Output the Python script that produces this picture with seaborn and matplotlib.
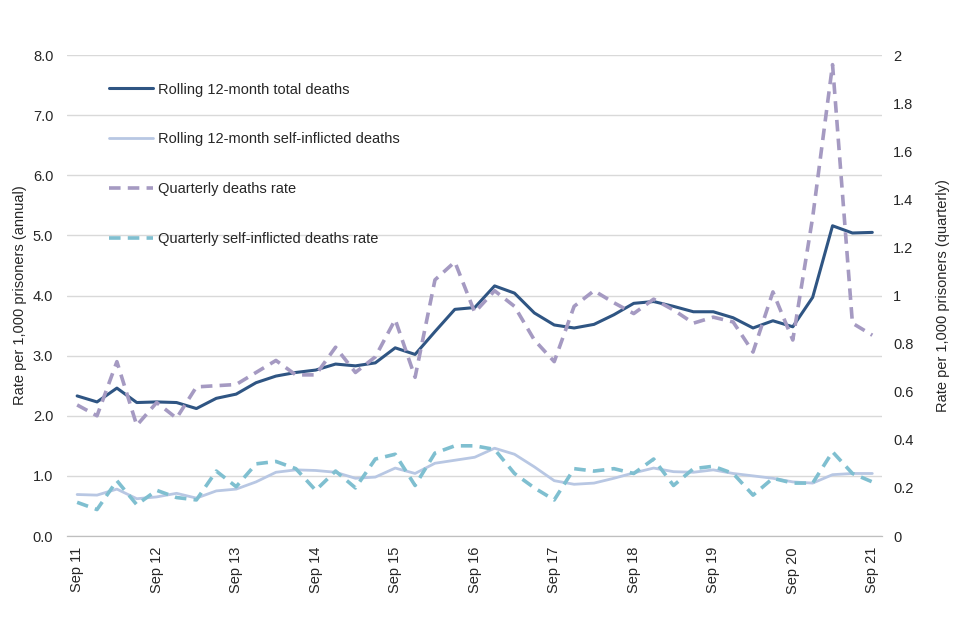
import numpy as np
import matplotlib.pyplot as plt
import matplotlib.ticker as mticker
import seaborn as sns

# Quarterly series, Sep 11 to Sep 21 (41 quarters)
quarter_idx = list(range(41))
sep_labels = ["Sep 11", "Sep 12", "Sep 13", "Sep 14", "Sep 15", "Sep 16",
              "Sep 17", "Sep 18", "Sep 19", "Sep 20", "Sep 21"]

# Left axis: rolling 12-month rates (annual)
rolling_total = [2.33, 2.23, 2.46, 2.22, 2.23, 2.22, 2.12, 2.29, 2.36, 2.55,
                 2.66, 2.72, 2.76, 2.86, 2.83, 2.88, 3.13, 3.02, 3.40, 3.77,
                 3.80, 4.16, 4.04, 3.71, 3.51, 3.46, 3.52, 3.68, 3.87, 3.90,
                 3.82, 3.73, 3.73, 3.63, 3.46, 3.58, 3.48, 3.97, 5.16, 5.04, 5.05]
rolling_self = [0.69, 0.68, 0.78, 0.62, 0.65, 0.71, 0.63, 0.75, 0.78, 0.90,
                1.06, 1.10, 1.09, 1.06, 0.96, 0.98, 1.13, 1.04, 1.21, 1.26,
                1.31, 1.46, 1.36, 1.15, 0.92, 0.86, 0.88, 0.96, 1.05, 1.13,
                1.07, 1.06, 1.10, 1.04, 1.00, 0.96, 0.90, 0.88, 1.02, 1.04, 1.04]

# Right axis: quarterly rates
quarterly_deaths = [0.545, 0.50, 0.725, 0.46, 0.555, 0.49, 0.62, 0.625, 0.63, 0.68,
                    0.73, 0.67, 0.67, 0.785, 0.68, 0.745, 0.90, 0.66, 1.065, 1.14,
                    0.93, 1.02, 0.955, 0.815, 0.725, 0.955, 1.02, 0.97, 0.925, 0.985,
                    0.94, 0.885, 0.91, 0.89, 0.765, 1.015, 0.815, 1.325, 1.96, 0.885, 0.835]
quarterly_self = [0.14, 0.11, 0.23, 0.13, 0.19, 0.16, 0.15, 0.27, 0.205, 0.30,
                  0.31, 0.28, 0.19, 0.27, 0.20, 0.32, 0.34, 0.21, 0.345, 0.375,
                  0.375, 0.36, 0.26, 0.20, 0.15, 0.28, 0.27, 0.28, 0.26, 0.32,
                  0.21, 0.28, 0.29, 0.26, 0.17, 0.24, 0.22, 0.22, 0.35, 0.26, 0.225]

sns.set_style("white")
plt.rcParams['font.family'] = ['Liberation Sans', 'DejaVu Sans']
plt.rcParams['font.size'] = 10.5

fig, ax1 = plt.subplots(figsize=(9.6, 6.4), dpi=100)
fig.subplots_adjust(left=0.07, right=0.919, bottom=0.1625, top=0.914)
ax2 = ax1.twinx()

# Rolling lines on the annual axis
sns.lineplot(x=quarter_idx, y=rolling_total, ax=ax1, color='#2f5583', linewidth=2.2,
             label='Rolling 12-month total deaths')
sns.lineplot(x=quarter_idx, y=rolling_self, ax=ax1, color='#b8c7e3', linewidth=2.0,
             label='Rolling 12-month self-inflicted deaths')

# Quarterly dashed lines on the quarterly axis
sns.lineplot(x=quarter_idx, y=quarterly_deaths, ax=ax2, color='#a59ac2', linewidth=2.6,
             linestyle=(0, (3.2, 2.0)), label='Quarterly deaths rate')
sns.lineplot(x=quarter_idx, y=quarterly_self, ax=ax2, color='#7fbfd0', linewidth=2.6,
             linestyle=(0, (3.2, 2.0)), label='Quarterly self-inflicted deaths rate')

# Axis limits and ticks
ax1.set_xlim(-0.5, 40.5)
ax1.set_ylim(0, 8)
ax2.set_ylim(0, 2)
ax1.set_yticks(np.arange(0, 8.1, 1))
ax1.yaxis.set_major_formatter(mticker.FormatStrFormatter('%.1f'))
ax2.set_yticks(np.arange(0, 2.01, 0.2))
ax2.yaxis.set_major_formatter(mticker.FuncFormatter(lambda v, p: f'{v:g}'))

ax1.set_xticks(quarter_idx[::4])
ax1.set_xticklabels(sep_labels, rotation=90)
ax1.set_xticks(np.arange(-0.5, 41, 1), minor=True)
ax1.tick_params(axis='x', which='major', length=0, pad=8, labelsize=10.5)
ax1.tick_params(axis='x', which='minor', length=5, color='#bfbfbf', width=1)
ax1.tick_params(axis='y', length=0, pad=10, labelsize=10.5)
ax2.tick_params(axis='y', length=0, pad=8, labelsize=10.5)

# Gridlines and spines
ax1.yaxis.grid(True, color='#d9d9d9', linewidth=1)
ax1.set_axisbelow(True)
for a in (ax1, ax2):
    for s in ('top', 'left', 'right'):
        a.spines[s].set_visible(False)
    a.spines['bottom'].set_color('#bfbfbf')

ax1.set_ylabel('Rate per 1,000 prisoners (annual)', fontsize=10.5)
ax2.set_ylabel('Rate per 1,000 prisoners (quarterly)', fontsize=10.5, labelpad=16)

# Combined legend, no frame
h1, l1 = ax1.get_legend_handles_labels()
h2, l2 = ax2.get_legend_handles_labels()
ax1.get_legend().remove()
ax2.get_legend().remove()
ax2.legend(h1 + h2, l1 + l2, loc='upper left', bbox_to_anchor=(0.035, 0.97),
           frameon=False, labelspacing=2.45, handlelength=3.0, handletextpad=0.35,
           fontsize=10.5)

plt.savefig('out.png', dpi=100)
